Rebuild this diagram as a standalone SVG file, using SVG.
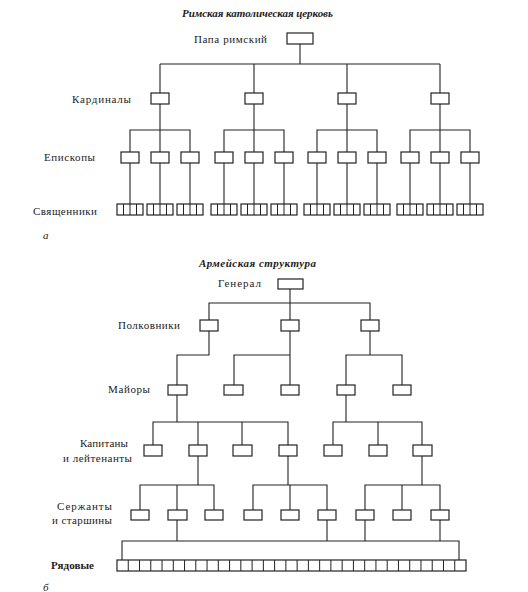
<svg xmlns="http://www.w3.org/2000/svg" width="528" height="592" viewBox="0 0 528 592">
<style>
text{font-family:"Liberation Serif","Times New Roman",serif;font-size:11px;fill:#222}
.t{font-weight:bold;font-style:italic;font-size:11px}
.b{font-weight:bold}
.i{font-style:italic}
rect{fill:#fff;stroke:#222;stroke-width:1.2}
.c line,.c polyline{stroke:#222;stroke-width:1.1;fill:none}
.d{stroke:#222;stroke-width:1}
</style>
<rect x="0" y="0" width="528" height="592" style="stroke:none;fill:#fff"/>
<!-- titles and labels -->
<text class="t" x="182" y="17" textLength="151" lengthAdjust="spacing">Римская католическая церковь</text>
<text x="194" y="43" textLength="73" lengthAdjust="spacing">Папа римский</text>
<text x="72" y="103" textLength="59" lengthAdjust="spacing">Кардиналы</text>
<text x="44" y="161" textLength="51" lengthAdjust="spacing">Епископы</text>
<text x="33" y="215" textLength="64" lengthAdjust="spacing">Священники</text>
<text class="i" x="43" y="239">а</text>
<text class="t" x="199" y="267" textLength="117" lengthAdjust="spacing">Армейская структура</text>
<text x="218" y="287" textLength="43" lengthAdjust="spacing">Генерал</text>
<text x="118" y="329" textLength="62" lengthAdjust="spacing">Полковники</text>
<text x="108" y="393" textLength="42" lengthAdjust="spacing">Майоры</text>
<text x="80" y="447" textLength="48" lengthAdjust="spacing">Капитаны</text>
<text x="63" y="462" textLength="69" lengthAdjust="spacing">и лейтенанты</text>
<text x="57" y="510" textLength="55" lengthAdjust="spacing">Сержанты</text>
<text x="52" y="524" textLength="60" lengthAdjust="spacing">и старшины</text>
<text class="b" x="51" y="569" textLength="43" lengthAdjust="spacing">Рядовые</text>
<text class="i" x="43" y="591">б</text>
<!-- connectors -->
<g id="connectors" class="c">
<line x1="300" y1="44" x2="300" y2="64"/>
<line x1="160" y1="64" x2="440" y2="64"/>
<line x1="160" y1="64" x2="160" y2="93"/><line x1="254" y1="64" x2="254" y2="93"/><line x1="347" y1="64" x2="347" y2="93"/><line x1="440" y1="64" x2="440" y2="93"/>
<line x1="160" y1="104" x2="160" y2="152"/><line x1="254" y1="104" x2="254" y2="152"/><line x1="347" y1="104" x2="347" y2="152"/><line x1="440" y1="104" x2="440" y2="152"/>
<polyline points="130,152 130,130 190,130 190,152"/>
<polyline points="224,152 224,130 284,130 284,152"/>
<polyline points="317,152 317,130 377,130 377,152"/>
<polyline points="410,152 410,130 470,130 470,152"/>
<line x1="130" y1="163" x2="130" y2="204"/><line x1="160" y1="163" x2="160" y2="204"/><line x1="190" y1="163" x2="190" y2="204"/>
<line x1="224" y1="163" x2="224" y2="204"/><line x1="254" y1="163" x2="254" y2="204"/><line x1="284" y1="163" x2="284" y2="204"/>
<line x1="317" y1="163" x2="317" y2="204"/><line x1="347" y1="163" x2="347" y2="204"/><line x1="377" y1="163" x2="377" y2="204"/>
<line x1="410" y1="163" x2="410" y2="204"/><line x1="440" y1="163" x2="440" y2="204"/><line x1="470" y1="163" x2="470" y2="204"/>
<!-- army -->
<line x1="290" y1="289" x2="290" y2="320"/>
<polyline points="209,320 209,303 370,303 370,320"/>
<polyline points="209,331 209,355 177,355 177,385"/>
<line x1="290" y1="331" x2="290" y2="385"/>
<polyline points="290,355 234,355 234,385"/>
<line x1="370" y1="331" x2="370" y2="355"/>
<polyline points="346,385 346,355 402,355 402,385"/>
<line x1="177" y1="395" x2="177" y2="422"/>
<polyline points="153,445 153,422 288,422 288,445"/>
<line x1="198" y1="422" x2="198" y2="445"/><line x1="242" y1="422" x2="242" y2="445"/>
<line x1="346" y1="395" x2="346" y2="422"/>
<polyline points="333,445 333,422 422,422 422,445"/>
<line x1="378" y1="422" x2="378" y2="445"/>
<line x1="198" y1="456" x2="198" y2="485"/>
<polyline points="140,510 140,485 214,485 214,510"/>
<line x1="177" y1="485" x2="177" y2="510"/>
<line x1="288" y1="456" x2="288" y2="485"/>
<polyline points="253,510 253,485 327,485 327,510"/>
<line x1="290" y1="485" x2="290" y2="510"/>
<line x1="422" y1="456" x2="422" y2="485"/>
<polyline points="365,510 365,485 440,485 440,510"/>
<line x1="402" y1="485" x2="402" y2="510"/>
<line x1="177" y1="520" x2="177" y2="541"/><line x1="327" y1="520" x2="327" y2="541"/><line x1="365" y1="520" x2="365" y2="541"/><line x1="440" y1="520" x2="440" y2="541"/>
<polyline points="122,560 122,541 459,541 459,560"/>
</g>
<!-- church nodes -->
<g id="pope"><rect x="287" y="33" width="26" height="11"/></g>
<g id="cardinal-1"><rect x="151" y="93" width="18" height="11"/></g>
<g id="cardinal-2"><rect x="245" y="93" width="18" height="11"/></g>
<g id="cardinal-3"><rect x="338" y="93" width="18" height="11"/></g>
<g id="cardinal-4"><rect x="431" y="93" width="18" height="11"/></g>
<g id="bishops">
<rect x="121" y="152" width="18" height="11"/><rect x="151" y="152" width="18" height="11"/><rect x="181" y="152" width="18" height="11"/>
<rect x="215" y="152" width="18" height="11"/><rect x="245" y="152" width="18" height="11"/><rect x="275" y="152" width="18" height="11"/>
<rect x="308" y="152" width="18" height="11"/><rect x="338" y="152" width="18" height="11"/><rect x="368" y="152" width="18" height="11"/>
<rect x="401" y="152" width="18" height="11"/><rect x="431" y="152" width="18" height="11"/><rect x="461" y="152" width="18" height="11"/>
</g>
<defs>
<g id="priest">
<rect x="0" y="0" width="26" height="11"/>
<line class="d" x1="6.5" y1="0" x2="6.5" y2="11"/><line class="d" x1="13" y1="0" x2="13" y2="11"/><line class="d" x1="19.5" y1="0" x2="19.5" y2="11"/>
</g>
</defs>
<g id="priests">
<use href="#priest" x="117" y="204"/><use href="#priest" x="147" y="204"/><use href="#priest" x="177" y="204"/>
<use href="#priest" x="211" y="204"/><use href="#priest" x="241" y="204"/><use href="#priest" x="271" y="204"/>
<use href="#priest" x="304" y="204"/><use href="#priest" x="334" y="204"/><use href="#priest" x="364" y="204"/>
<use href="#priest" x="397" y="204"/><use href="#priest" x="427" y="204"/><use href="#priest" x="457" y="204"/>
</g>
<!-- army nodes -->
<g id="general"><rect x="278" y="279" width="25" height="10"/></g>
<g id="colonels">
<rect x="200" y="320" width="18" height="11"/><rect x="281" y="320" width="18" height="11"/><rect x="361" y="320" width="18" height="11"/>
</g>
<g id="majors">
<rect x="168" y="385" width="19" height="10"/><rect x="224" y="385" width="19" height="10"/><rect x="281" y="385" width="18" height="10"/><rect x="337" y="385" width="18" height="10"/><rect x="393" y="385" width="18" height="10"/>
</g>
<g id="captains">
<rect x="144" y="445" width="18" height="11"/><rect x="189" y="445" width="18" height="11"/><rect x="233" y="445" width="19" height="11"/><rect x="279" y="445" width="18" height="11"/><rect x="324" y="445" width="18" height="11"/><rect x="369" y="445" width="18" height="11"/><rect x="413" y="445" width="19" height="11"/>
</g>
<g id="sergeants">
<rect x="131" y="510" width="18" height="10"/><rect x="168" y="510" width="19" height="10"/><rect x="205" y="510" width="18" height="10"/>
<rect x="244" y="510" width="18" height="10"/><rect x="281" y="510" width="18" height="10"/><rect x="318" y="510" width="18" height="10"/>
<rect x="356" y="510" width="18" height="10"/><rect x="393" y="510" width="18" height="10"/><rect x="431" y="510" width="18" height="10"/>
</g>
<g id="privates">
<rect x="117" y="560" width="349" height="11"/>
<g class="d">
<line x1="128.26" y1="560" x2="128.26" y2="571"/><line x1="139.52" y1="560" x2="139.52" y2="571"/><line x1="150.77" y1="560" x2="150.77" y2="571"/><line x1="162.03" y1="560" x2="162.03" y2="571"/><line x1="173.29" y1="560" x2="173.29" y2="571"/><line x1="184.55" y1="560" x2="184.55" y2="571"/><line x1="195.81" y1="560" x2="195.81" y2="571"/><line x1="207.06" y1="560" x2="207.06" y2="571"/><line x1="218.32" y1="560" x2="218.32" y2="571"/><line x1="229.58" y1="560" x2="229.58" y2="571"/>
<line x1="240.84" y1="560" x2="240.84" y2="571"/><line x1="252.10" y1="560" x2="252.10" y2="571"/><line x1="263.35" y1="560" x2="263.35" y2="571"/><line x1="274.61" y1="560" x2="274.61" y2="571"/><line x1="285.87" y1="560" x2="285.87" y2="571"/><line x1="297.13" y1="560" x2="297.13" y2="571"/><line x1="308.39" y1="560" x2="308.39" y2="571"/><line x1="319.65" y1="560" x2="319.65" y2="571"/><line x1="330.90" y1="560" x2="330.90" y2="571"/><line x1="342.16" y1="560" x2="342.16" y2="571"/>
<line x1="353.42" y1="560" x2="353.42" y2="571"/><line x1="364.68" y1="560" x2="364.68" y2="571"/><line x1="375.94" y1="560" x2="375.94" y2="571"/><line x1="387.19" y1="560" x2="387.19" y2="571"/><line x1="398.45" y1="560" x2="398.45" y2="571"/><line x1="409.71" y1="560" x2="409.71" y2="571"/><line x1="420.97" y1="560" x2="420.97" y2="571"/><line x1="432.23" y1="560" x2="432.23" y2="571"/><line x1="443.48" y1="560" x2="443.48" y2="571"/><line x1="454.74" y1="560" x2="454.74" y2="571"/>
</g>
</g>
</svg>
